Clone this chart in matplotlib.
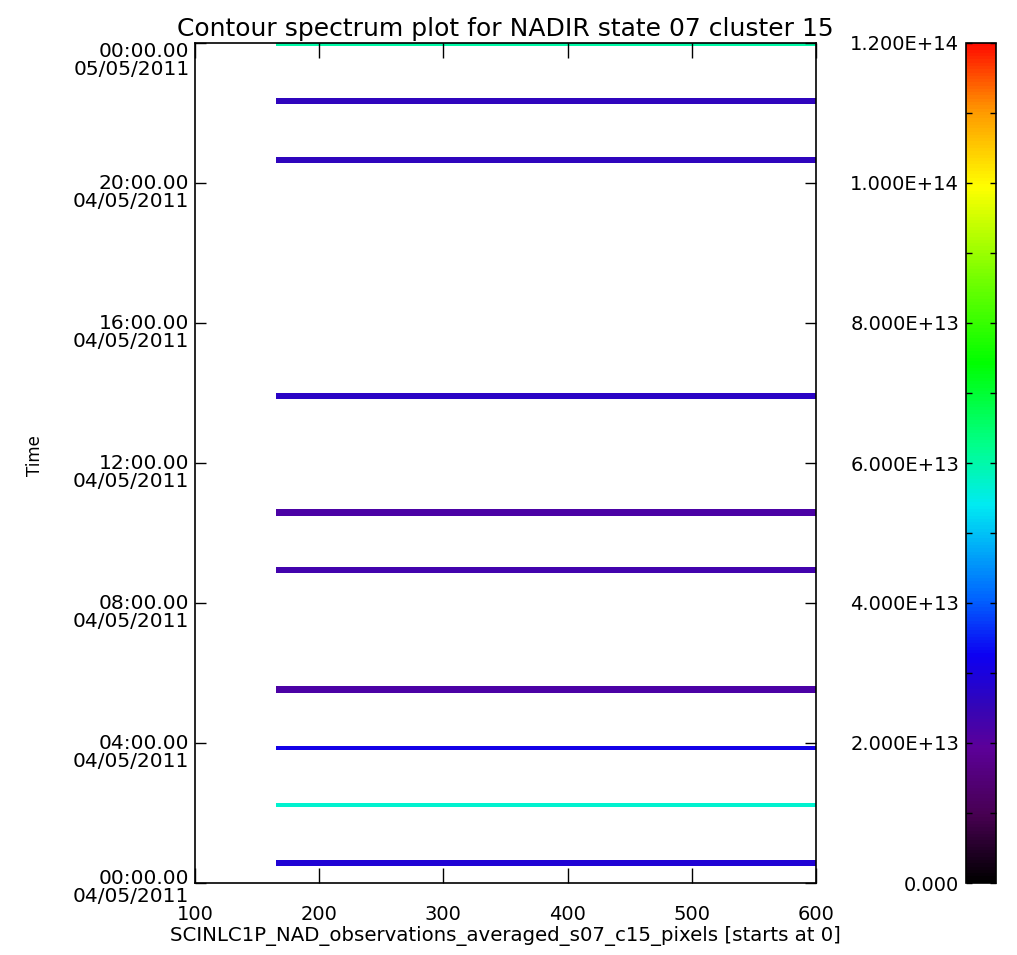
import numpy as np
import matplotlib
matplotlib.use("Agg")
import matplotlib.pyplot as plt
from matplotlib.colors import LinearSegmentedColormap, Normalize
from matplotlib.transforms import ScaledTranslation
from matplotlib.cm import ScalarMappable

# ---------------- data ----------------
pixel_start = 165
pixel_end = 600
band_hours = [0.57, 2.23, 3.86, 5.54, 8.94, 10.60, 13.91, 20.66, 22.34, 23.96]
band_widths = [0.16, 0.13, 0.12, 0.20, 0.19, 0.20, 0.17, 0.17, 0.19, 0.10]
band_values = [2.9e13, 5.7e13, 3.1e13, 2.2e13, 2.3e13, 2.2e13, 2.7e13, 2.6e13, 2.6e13, 6.0e13]

x_ticks = [100, 200, 300, 400, 500, 600]
y_tick_hours = [0, 4, 8, 12, 16, 20, 24]
y_tick_labels = ["00:00.00\n04/05/2011", "04:00.00\n04/05/2011", "08:00.00\n04/05/2011",
                 "12:00.00\n04/05/2011", "16:00.00\n04/05/2011", "20:00.00\n04/05/2011",
                 "00:00.00\n05/05/2011"]
cbar_ticks = [0, 2e13, 4e13, 6e13, 8e13, 1e14, 1.2e14]
cbar_labels = ["0.000", "2.000E+13", "4.000E+13", "6.000E+13", "8.000E+13", "1.000E+14", "1.200E+14"]

title = "Contour spectrum plot for NADIR state 07 cluster 15"
xlabel = "SCINLC1P_NAD_observations_averaged_s07_c15_pixels [starts at 0]"
ylabel = "Time"

# IDL "rainbow + black"-like colormap
cmap = LinearSegmentedColormap.from_list("idl39", [
    (0.00, (0.0, 0.0, 0.0)),
    (0.08, (0.28, 0.0, 0.32)),
    (0.16, (0.36, 0.0, 0.60)),
    (0.21, (0.20, 0.02, 0.72)),
    (0.27, (0.05, 0.0, 0.95)),
    (0.34, (0.0, 0.40, 1.0)),
    (0.45, (0.0, 0.92, 0.95)),
    (0.52, (0.0, 1.0, 0.55)),
    (0.62, (0.0, 1.0, 0.0)),
    (0.72, (0.45, 1.0, 0.0)),
    (0.83, (1.0, 1.0, 0.0)),
    (0.92, (1.0, 0.6, 0.0)),
    (1.00, (1.0, 0.05, 0.0)),
])
norm = Normalize(vmin=0, vmax=1.2e14)

# ---------------- figure ----------------
fig = plt.figure(figsize=(10.17, 9.55), dpi=100)
plt.rcParams['font.family'] = ['DejaVu Sans']

ax = fig.add_axes([195/1017, 1 - 883/955, (816-195)/1017, (883-43)/955])
for h, w, v in zip(band_hours, band_widths, band_values):
    y0 = max(0, h - w/2)
    y1 = min(24, h + w/2)
    Z = np.array([[v]])
    ax.pcolormesh([pixel_start, pixel_end], [y0, y1], Z, cmap=cmap, norm=norm, shading='flat')

ax.set_xlim(100, 600)
ax.set_ylim(0, 24)
ax.set_xticks(x_ticks)
ax.set_xticklabels([str(t) for t in x_ticks], fontsize=14)
ax.set_yticks(y_tick_hours)
ax.set_yticklabels(y_tick_labels, fontsize=14.5, linespacing=0.95, va='top')
ax.tick_params(axis='x', direction='in', top=True, bottom=True, length=11, width=1, pad=16)
ax.tick_params(axis='y', direction='in', left=True, right=True, length=8, width=1, pad=4)
for sp in ax.spines.values():
    sp.set_linewidth(1.2)

labels = ax.get_yticklabels()
for i, lbl in enumerate(labels):
    if i == 0:
        dy = 14
    elif i < len(labels) - 1:
        dy = 9
    else:
        dy = 1
    lbl.set_transform(lbl.get_transform() + ScaledTranslation(0, dy/100, fig.dpi_scale_trans))

ax.set_title(title, fontsize=18, pad=5)
ax.set_xlabel(xlabel, fontsize=14.2, labelpad=1)
fig.text(35/1017, 1 - 456/955, ylabel, rotation=90, fontsize=12, ha='center', va='center')

# colorbar
cax = fig.add_axes([966/1017, 1 - 883/955, 30/1017, (883-43)/955])
sm = ScalarMappable(norm=norm, cmap=cmap)
cb = fig.colorbar(sm, cax=cax)
cb.set_ticks(cbar_ticks)
cb.set_ticklabels(cbar_labels)
cax.yaxis.set_minor_locator(matplotlib.ticker.MultipleLocator(1e13))
cax.yaxis.set_ticks_position('both')
cax.tick_params(which='both', direction='in', left=True, right=True, labelleft=True,
                labelright=False, length=4, width=1, labelsize=14, pad=5)
cb.outline.set_linewidth(1.2)

fig.savefig("out.png", dpi=100)
